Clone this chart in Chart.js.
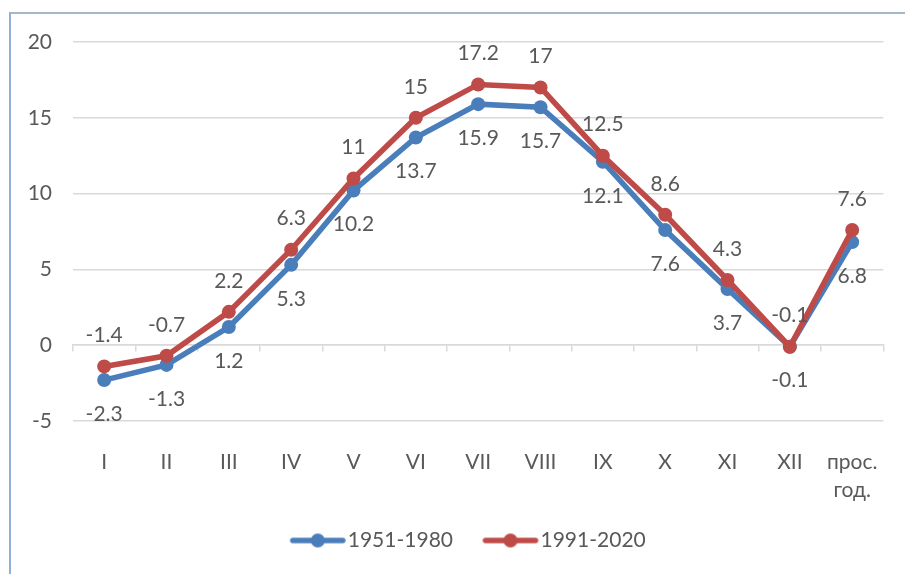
<!DOCTYPE html>
<html>
<head>
<meta charset="utf-8">
<script src="https://cdn.jsdelivr.net/npm/chart.js@4"></script>
<style>
  html, body { margin: 0; padding: 0; background: #fff; }
  #wrap { position: relative; width: 905px; height: 574px; overflow: hidden; }
  #frame { position: absolute; left: 9px; top: 12px; right: -10px; bottom: -10px;
           border-left: 2px solid #8fb0da; border-top: 2px solid #a7b7cb; }
  #c { position: absolute; left: 0; top: 0; }
</style>
</head>
<body>
<div id="wrap">
  <div id="frame"></div>
  <canvas id="c" width="905" height="574"></canvas>
</div>
<script>
// Monthly mean air temperature (°C) for two climate normals
const months = ['I', 'II', 'III', 'IV', 'V', 'VI', 'VII', 'VIII', 'IX', 'X', 'XI', 'XII', ['прос.', 'год.']];
const period1Label = '1951-1980';
const period1 = [-2.3, -1.3, 1.2, 5.3, 10.2, 13.7, 15.9, 15.7, 12.1, 7.6, 3.7, -0.1, 6.8];
const period2Label = '1991-2020';
const period2 = [-1.4, -0.7, 2.2, 6.3, 11, 15, 17.2, 17, 12.5, 8.6, 4.3, -0.1, 7.6];
const yTicks = [-5, 0, 5, 10, 15, 20];

const BLUE = '#4a7ebb';
const RED = '#be4b48';
const TEXT = '#595959';
const GRID = '#d9d9d9';
const FONT = 'Lato, "Open Sans", sans-serif';

Chart.defaults.font.family = FONT;
Chart.defaults.font.size = 21;
Chart.defaults.color = TEXT;

// Legend swatch: thick line with a round marker in the middle.
// The canvas is wider than the drawn line; the empty left part
// spaces the two legend entries apart.
const SW_W = 86, SW_LINE = 57;
function swatch(color) {
  const c = document.createElement('canvas');
  c.width = SW_W; c.height = 18;
  const g = c.getContext('2d');
  const x0 = SW_W - SW_LINE, x1 = SW_W - 1;
  g.strokeStyle = color; g.lineWidth = 5.5; g.lineCap = 'round';
  g.beginPath(); g.moveTo(x0 + 3, 9); g.lineTo(x1 - 3, 9); g.stroke();
  g.fillStyle = color;
  g.beginPath(); g.arc((x0 + x1) / 2, 9, 7, 0, Math.PI * 2); g.fill();
  return c;
}
const swatches = [swatch(BLUE), swatch(RED)];

// Value labels above / below each point
const valueLabels = {
  id: 'valueLabels',
  afterDatasetsDraw(chart) {
    const ctx = chart.ctx;
    chart.data.datasets.forEach((ds, i) => {
      const meta = chart.getDatasetMeta(i);
      ctx.save();
      ctx.font = '21px ' + FONT;
      ctx.fillStyle = TEXT;
      ctx.textAlign = 'center';
      ctx.textBaseline = 'middle';
      meta.data.forEach((pt, j) => {
        ctx.fillText(String(ds.data[j]), pt.x, pt.y + ds.labelOffset);
      });
      ctx.restore();
    });
  }
};

new Chart(document.getElementById('c'), {
  type: 'line',
  data: {
    labels: months,
    datasets: [
      {
        label: period1Label, data: period1, order: 1, labelOffset: 34,
        borderColor: BLUE, backgroundColor: BLUE, borderWidth: 5.5,
        pointRadius: 7, pointBackgroundColor: BLUE, pointBorderWidth: 0,
        tension: 0, fill: false
      },
      {
        label: period2Label, data: period2, order: 0, labelOffset: -31,
        borderColor: RED, backgroundColor: RED, borderWidth: 5.5,
        pointRadius: 7, pointBackgroundColor: RED, pointBorderWidth: 0,
        tension: 0, fill: false
      }
    ]
  },
  options: {
    responsive: false,
    animation: false,
    layout: { padding: { left: 26, right: 15, top: 42, bottom: 13 } },
    scales: {
      x: {
        offset: true,
        grid: { display: false, drawTicks: false },
        border: { display: false },
        ticks: { padding: 27, autoSkip: false, maxRotation: 0, color: TEXT,
                 font: { size: 21, lineHeight: 1.35 } },
        afterFit(s) { s.height = 99; }
      },
      x0: {
        type: 'category',
        labels: months,
        position: { y: 0 },
        offset: true,
        grid: { offset: true, drawOnChartArea: false, drawTicks: true, tickLength: 6,
                color: GRID, lineWidth: 1.5 },
        border: { display: true, color: GRID, width: 1.5 },
        ticks: { display: false }
      },
      y: {
        min: -5, max: 20,
        afterBuildTicks(s) { s.ticks = yTicks.map(v => ({ value: v })); },
        grid: { color: GRID, lineWidth: 1.5, drawTicks: false },
        border: { display: false },
        ticks: { padding: 21, color: TEXT },
        afterFit(s) { s.width = 47; }
      }
    },
    plugins: {
      tooltip: { enabled: false },
      legend: {
        position: 'bottom',
        labels: {
          usePointStyle: true,
          pointStyleWidth: SW_W - 19,
          padding: 10,
          color: TEXT,
          font: { size: 21 },
          sort: (a, b) => a.datasetIndex - b.datasetIndex,
          generateLabels(chart) {
            const items = Chart.defaults.plugins.legend.labels.generateLabels(chart);
            items.forEach(it => { it.pointStyle = swatches[it.datasetIndex]; });
            return items;
          }
        }
      }
    }
  },
  plugins: [valueLabels]
});
</script>
</body>
</html>
